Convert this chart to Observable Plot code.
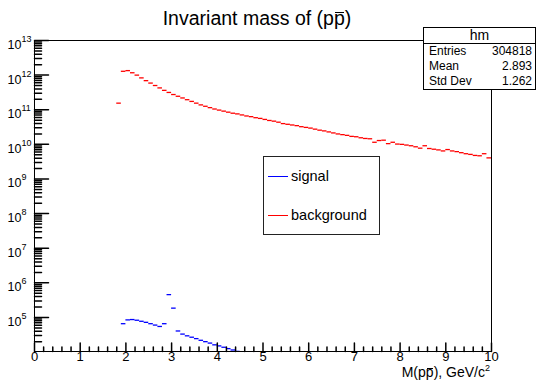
<!DOCTYPE html>
<html><head><meta charset="utf-8">
<script src="https://cdn.jsdelivr.net/npm/d3@7"></script>
<script src="https://cdn.jsdelivr.net/npm/@observablehq/plot@0.6"></script>
<style>
body{margin:0;background:#fff;font-family:"Liberation Sans",Arial,Helvetica,sans-serif;}
#wrap{position:relative;width:536px;height:380px;overflow:hidden;background:#fff}
#chart{position:absolute;left:0;top:0}
.ov{position:absolute;white-space:nowrap;color:#000;line-height:1}
.ob{position:relative}
.ob::after{content:"";position:absolute;left:0.06em;right:0.04em;top:0.3em;border-top:1px solid #000}
#stats{position:absolute;left:423px;top:27px;width:113px;height:63px;box-sizing:border-box;border:1px solid #000;background:#fff;font-size:12px}
#stats .hdr{position:absolute;left:0;right:0;top:0;height:15px;border-bottom:1px solid #000;text-align:center;font-size:14px;line-height:15px}
#stats .row{position:absolute;left:5px;right:3px;height:15px;line-height:15px}
#stats .row .v{position:absolute;right:0;top:0}
#legend{position:absolute;left:263px;top:156px;width:117px;height:79px;box-sizing:border-box;border:1px solid #222;background:#fff}
#legend .ent{position:absolute;left:0;height:39px;width:115px}
#legend .ln{position:absolute;left:4px;width:20px;top:19px;height:0;border-top:1px solid}
#legend .tx{position:absolute;left:27px;top:0;line-height:39px;font-size:14.5px}
</style></head><body>
<div id="wrap">
  <div id="chart"></div>
  <div class="ov" id="title" style="left:107px;width:300px;text-align:center;top:8.5px;font-size:19.5px">Invariant mass of (p<span class="ob">p</span>)</div>
  <div class="ov" id="xtitle" style="right:46px;top:364px;font-size:14px">M(p<span class="ob">p</span>), GeV/c<sup style="font-size:9px;vertical-align:6px">2</sup></div>
  <div id="stats"></div>
  <div id="legend"></div>
</div>
<script>
// ---- data (bin centers, GeV/c^2; bin contents) ----
const bgX = [1.85,1.95,2.05,2.15,2.25,2.35,2.45,2.55,2.65,2.75,2.85,2.95,3.05,3.15,3.25,3.35,3.45,3.55,3.65,3.75,3.85,3.95,
  4.05,4.15,4.25,4.35,4.45,4.55,4.65,4.75,4.85,4.95,5.05,5.15,5.25,5.35,5.45,5.55,5.65,5.75,5.85,5.95,
  6.05,6.15,6.25,6.35,6.45,6.55,6.65,6.75,6.85,6.95,7.05,7.15,7.25,7.35,7.45,7.55,7.65,7.75,7.85,7.95,
  8.05,8.15,8.25,8.35,8.45,8.55,8.65,8.75,8.85,8.95,9.05,9.15,9.25,9.35,9.45,9.55,9.65,9.75,9.85,9.95];
const bgY = [1.55e11,1.29e12,1.35e12,1.17e12,1.00e12,8.32e11,6.92e11,5.89e11,5.01e11,4.27e11,3.63e11,3.16e11,2.75e11,2.45e11,2.19e11,1.95e11,1.74e11,1.55e11,1.38e11,1.26e11,1.15e11,1.05e11,
  9.77e10,9.12e10,8.51e10,7.94e10,7.59e10,7.08e10,6.61e10,6.31e10,5.89e10,5.62e10,5.25e10,4.90e10,4.68e10,4.37e10,3.98e10,3.80e10,3.63e10,3.47e10,3.24e10,3.09e10,
  2.95e10,2.75e10,2.57e10,2.45e10,2.29e10,2.14e10,2.00e10,1.91e10,1.82e10,1.70e10,1.66e10,1.55e10,1.48e10,1.45e10,1.15e10,1.29e10,1.32e10,1.05e10,1.15e10,1.02e10,
  1.00e10,9.55e9,9.12e9,8.51e9,7.76e9,9.12e9,7.59e9,7.24e9,6.92e9,6.46e9,7.08e9,6.46e9,6.17e9,5.75e9,5.37e9,5.13e9,4.79e9,4.68e9,5.37e9,4.07e9];
const sigX = [1.95,2.05,2.15,2.25,2.35,2.45,2.55,2.65,2.75,2.85,2.95,3.05,3.15,3.25,3.35,3.45,3.55,3.65,3.75,3.85,3.95,4.05,4.15,4.25,4.35,4.45,4.55];
const sigY = [6.61e4,8.51e4,8.71e4,8.32e4,7.76e4,7.24e4,6.61e4,6.03e4,5.50e4,6.61e4,4.57e5,1.86e5,4.07e4,3.31e4,2.95e4,2.69e4,2.45e4,2.19e4,2.00e4,1.82e4,1.62e4,1.51e4,1.38e4,1.26e4,1.15e4,1.05e4,9.55e3];
const binWidth = 0.1;
const xMajor = [0,1,2,3,4,5,6,7,8,9,10];
const yMajor = [1e5,1e6,1e7,1e8,1e9,1e10,1e11,1e12,1e13];
const yExp = ["5","6","7","8","9","10","11","12","13"];
const xDomain = [0, 10];
const yDomain = [1.04e4, 1e13];
const statsTitle = "hm";
const statsRows = [["Entries","304818"],["Mean","2.893"],["Std Dev","1.262"]];
const legendItems = [["signal","#0000ff"],["background","#ff0000"]];

const bg = bgX.map((x,i)=>({x, v:bgY[i]}));
const sig = sigX.map((x,i)=>({x, v:sigY[i]}));
const xMinor = d3.range(0, 10.001, 0.2).filter(v => Math.abs(v - Math.round(v)) > 1e-6);
const yMinor = [];
for (let n = 4; n <= 12; n++) for (let k = 2; k <= 9; k++) { const v = k*Math.pow(10,n); if (v >= yDomain[0] && v <= yDomain[1]) yMinor.push(v); }

const tickShape = {draw(ctx, l){ ctx.moveTo(0,0); ctx.lineTo(0,-l); }};

const chart = Plot.plot({
  width: 536, height: 380,
  marginLeft: 34, marginRight: 45, marginTop: 40, marginBottom: 29,
  style: {fontFamily: '"Liberation Sans", Arial, sans-serif', background: "#fff", color: "#000"},
  x: {domain: xDomain, axis: null},
  y: {type: "log", domain: yDomain, axis: null},
  marks: [
    Plot.ruleY(bg, {x1: d=>d.x-binWidth/2, x2: d=>d.x+binWidth/2, y: "v", stroke: "#ff0000", strokeWidth: 1.3, clip: true}),
    Plot.ruleY(sig, {x1: d=>d.x-binWidth/2, x2: d=>d.x+binWidth/2, y: "v", stroke: "#0000ff", strokeWidth: 1.3, clip: true}),
    Plot.frame({stroke: "#000"}),
    Plot.vector(xMajor, {x: d=>d, frameAnchor: "bottom", length: 8.5, rotate: 0, anchor: "start", shape: tickShape, stroke: "#000"}),
    Plot.vector(xMinor, {x: d=>d, frameAnchor: "bottom", length: 4.5, rotate: 0, anchor: "start", shape: tickShape, stroke: "#000"}),
    Plot.vector(yMajor, {y: d=>d, frameAnchor: "left", length: 14, rotate: 90, anchor: "start", shape: tickShape, stroke: "#000"}),
    Plot.vector(yMinor, {y: d=>d, frameAnchor: "left", length: 7, rotate: 90, anchor: "start", shape: tickShape, stroke: "#000"}),
    Plot.text(xMajor, {x: d=>d, frameAnchor: "bottom", dy: 9, text: d=>String(d), fontSize: 13, fill: "#000"}),
    Plot.text(yMajor, {y: d=>d, frameAnchor: "left", dx: -13, dy: 4.5, text: ()=>"10", textAnchor: "end", fontSize: 12.5, fill: "#000"}),
    Plot.text(yMajor, {y: d=>d, frameAnchor: "left", dx: -13, dy: -1.5, text: (d,i)=>yExp[i], textAnchor: "start", fontSize: 9, fill: "#000"})
  ]
});
document.getElementById("chart").appendChild(chart);

// stats box
const st = document.getElementById("stats");
const hdr = document.createElement("div"); hdr.className = "hdr"; hdr.textContent = statsTitle; st.appendChild(hdr);
statsRows.forEach((r,i)=>{
  const row = document.createElement("div"); row.className = "row"; row.style.top = (16 + i*15) + "px";
  row.innerHTML = `<span>${r[0]}</span><span class="v">${r[1]}</span>`;
  st.appendChild(row);
});
// legend
const lg = document.getElementById("legend");
legendItems.forEach((it,i)=>{
  const e = document.createElement("div"); e.className = "ent"; e.style.top = (i*39) + "px";
  e.innerHTML = `<div class="ln" style="border-color:${it[1]}"></div><div class="tx">${it[0]}</div>`;
  lg.appendChild(e);
});
</script>
</body></html>
